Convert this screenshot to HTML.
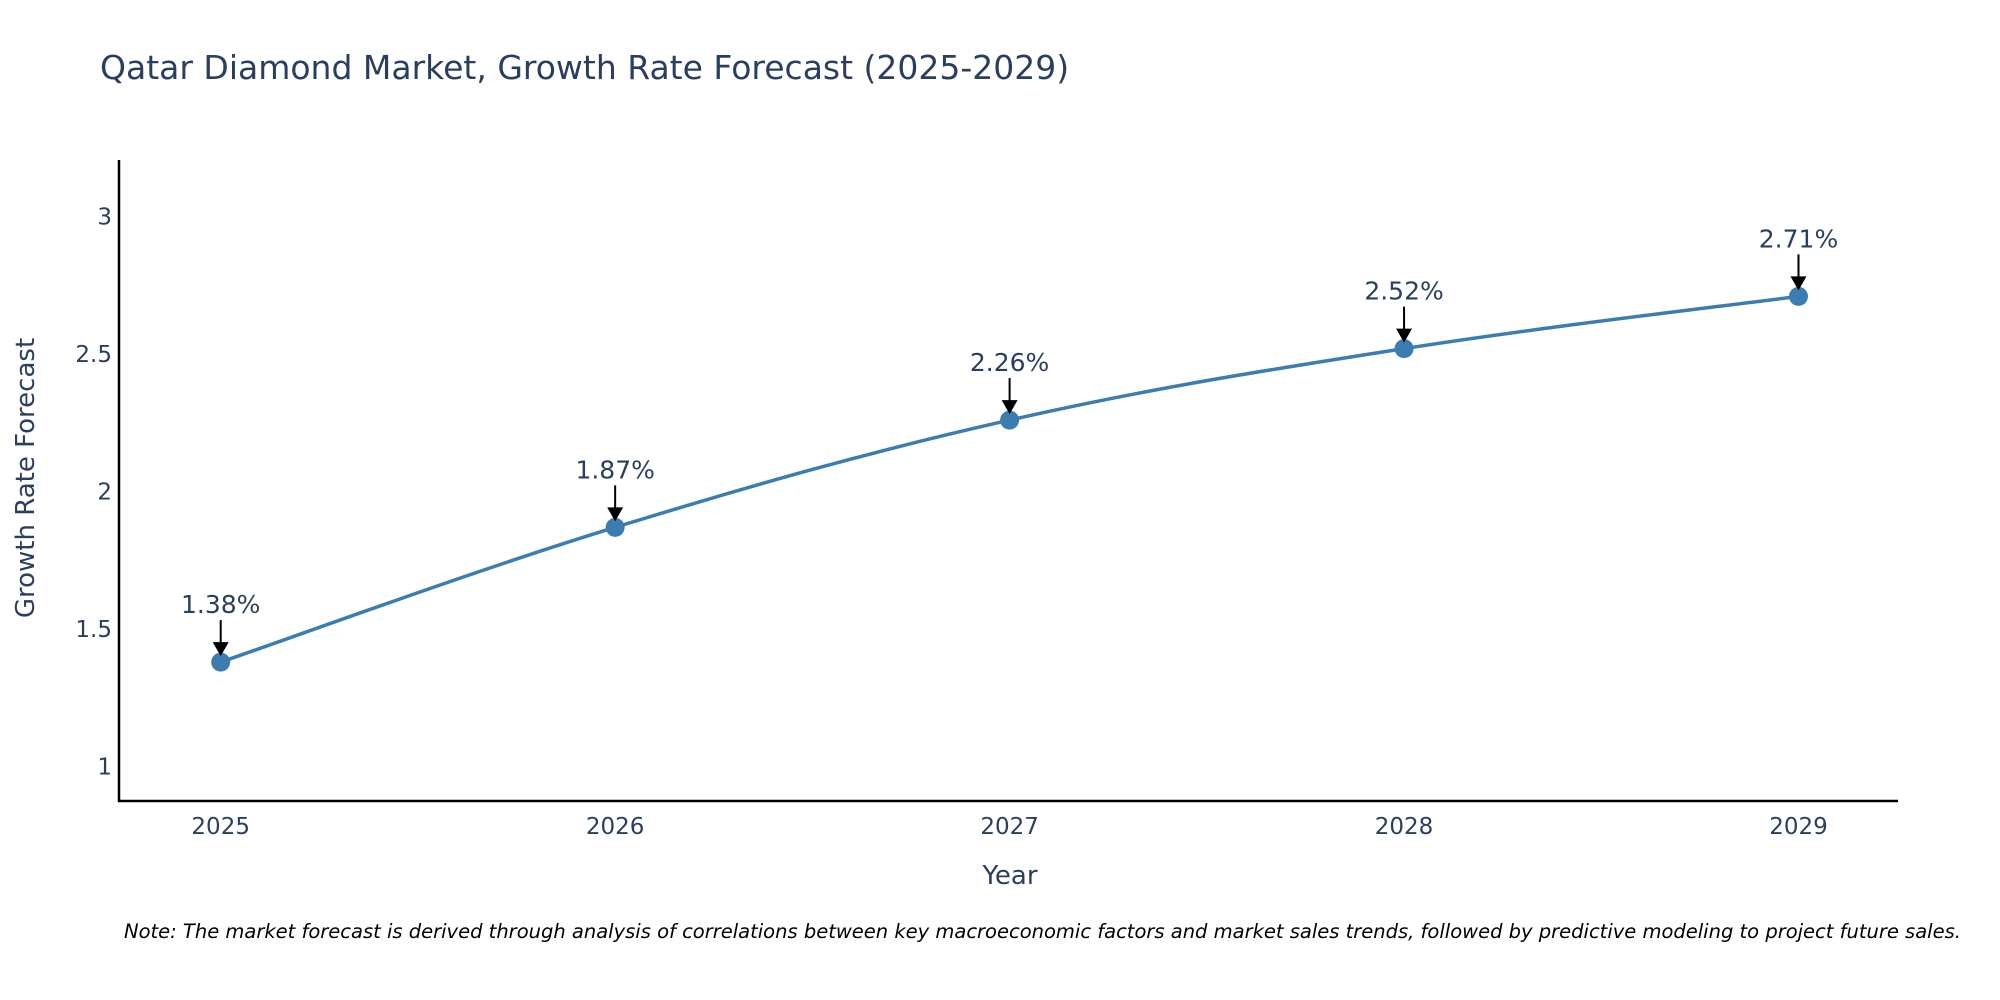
<!DOCTYPE html>
<html><head><meta charset="utf-8"><style>
body{margin:0;background:#fff;}
svg{display:block;font-family:"DejaVu Sans","Liberation Sans",sans-serif;}
</style></head><body>
<svg id="chart" width="2000" height="1000" viewBox="0 0 2000 1000">
<text x="100" y="79" font-size="33" fill="#2a3f5f">Qatar Diamond Market, Growth Rate Forecast (2025-2029)</text>
<g id="yticks"></g><g id="xticks"></g>
<line x1="119" y1="160" x2="119" y2="802" stroke="#000" stroke-width="2.5"/>
<line x1="118" y1="801" x2="1898" y2="801" stroke="#000" stroke-width="2.5"/>
<text transform="translate(34,478) rotate(-90)" text-anchor="middle" font-size="26" fill="#2a3f5f">Growth Rate Forecast</text>
<text x="1010" y="884" text-anchor="middle" font-size="26" fill="#2a3f5f">Year</text>
<g id="series"></g>
<text x="124" y="938" font-size="19.5" font-style="italic" fill="#000">Note: The market forecast is derived through analysis of correlations between key macroeconomic factors and market sales trends, followed by predictive modeling to project future sales.</text>
</svg>
<script>
const years=[2025,2026,2027,2028,2029];
const growth=[1.38,1.87,2.26,2.52,2.71];
const labels=["1.38%","1.87%","2.26%","2.52%","2.71%"];
const yTicks=[1,1.5,2,2.5,3];
const yTickLabels=["1","1.5","2","2.5","3"];
const NS="http://www.w3.org/2000/svg";
const xs=v=>220.7+(v-2025)*394.45;
const ys=v=>766.6-(v-1)*275;
function mk(t,a,p){const e=document.createElementNS(NS,t);for(const k in a)e.setAttribute(k,a[k]);p.appendChild(e);return e;}
const yt=document.getElementById('yticks');
yTicks.forEach((v,i)=>{const t=mk('text',{x:112,y:ys(v)+8,'text-anchor':'end','font-size':23,fill:'#2a3f5f'},yt);


t.textContent=yTickLabels[i];});
const xt=document.getElementById('xticks');
years.forEach(y=>{const t=mk('text',{x:xs(y),y:834,'text-anchor':'middle','font-size':23,fill:'#2a3f5f'},xt);


t.textContent=y;});
const s=document.getElementById('series');
const P=years.map((y,i)=>[xs(y),ys(growth[i])]);
let d=`M${P[0][0]},${P[0][1]}`;const k=0.18;
for(let i=0;i<P.length-1;i++){const p0=P[Math.max(i-1,0)],p1=P[i],p2=P[i+1],p3=P[Math.min(i+2,P.length-1)];
const c1=[p1[0]+(p2[0]-p0[0])*k,p1[1]+(p2[1]-p0[1])*k],c2=[p2[0]-(p3[0]-p1[0])*k,p2[1]-(p3[1]-p1[1])*k];
d+=` C${c1[0]},${c1[1]} ${c2[0]},${c2[1]} ${p2[0]},${p2[1]}`;}
const line=mk('path',{d:d,fill:'none',stroke:'#3b7db0','stroke-width':3.5},s);


P.forEach((p,i)=>{const c=mk('circle',{cx:p[0],cy:p[1],r:9.5,fill:'#3b7db0'},s);


const a=mk('line',{x1:p[0],y1:p[1]-42,x2:p[0],y2:p[1]-18,stroke:'#000','stroke-width':2},s);


const h=mk('path',{d:`M${p[0]-8},${p[1]-20} L${p[0]+8},${p[1]-20} L${p[0]},${p[1]-6} Z`,fill:'#000'},s);


const t=mk('text',{x:p[0],y:p[1]-49,'text-anchor':'middle','font-size':25,fill:'#2a3f5f'},s);


t.textContent=labels[i];});
</script>
</body></html>
